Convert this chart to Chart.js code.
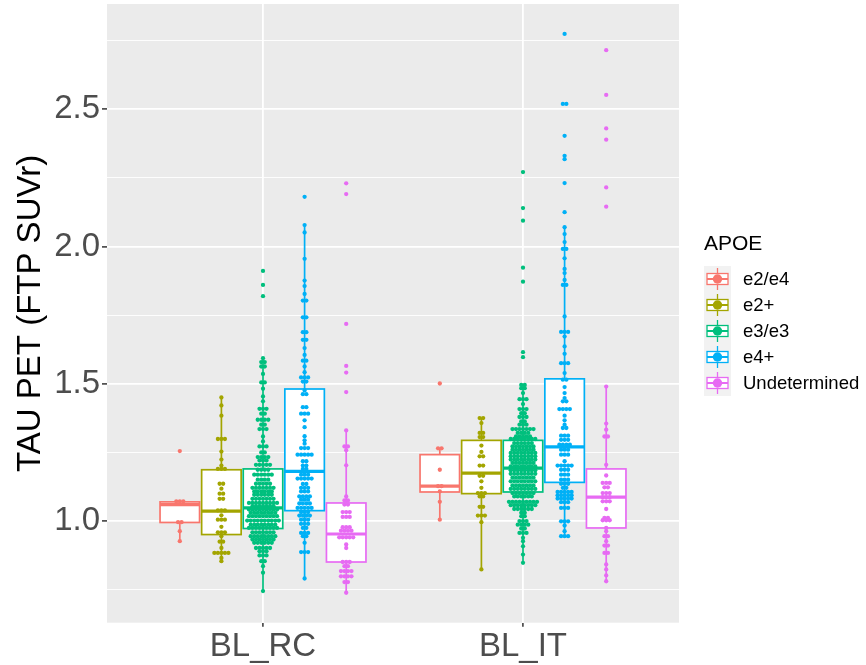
<!DOCTYPE html>
<html><head>
<meta charset="UTF-8">
<title>TAU PET by APOE</title>
<script src="https://cdn.jsdelivr.net/npm/chart.js"></script>
<style>
  body { margin: 0; background: #fff; font-family: 'Liberation Sans', Arial, sans-serif; }
  #wrap { position: relative; width: 866px; height: 665px; }
  #legend-title { position: absolute; left: 704px; top: 232px; font-size: 21px; line-height: 21px; color: #000; }
  .key-row { position: absolute; left: 704px; height: 26px; }
  .key-row canvas { position: absolute; left: 0; top: 0; }
  .key-row span { position: absolute; left: 39px; top: 0; font-size: 18.5px; line-height: 26px; color: #000; white-space: nowrap; }
</style>
</head>
<body>
<div id="wrap">
  <canvas id="chart" width="866" height="665"></canvas>
  <div id="legend-title">APOE</div>
  <div id="legend"></div>
</div>
<script>
const categories = ['BL_RC', 'BL_IT'];
const genotypes = ['e2/e4', 'e2+', 'e3/e3', 'e4+', 'Undetermined'];
const genotypeColors = ['#F8766D', '#A3A500', '#00BF7D', '#00B0F6', '#E76BF3'];
const yTicks = [0.75, 1.0, 1.25, 1.5, 1.75, 2.0, 2.25, 2.5, 2.75];

// box statistics, one row per category, one column per genotype
const whiskerLow    = [[0.927, 0.854, 0.745, 0.791, 0.739], [1.005, 0.824, 0.848, 0.945, 0.781]];
const lowerQuartile = [[0.995, 0.951, 0.973, 1.038, 0.851], [1.106, 1.100, 1.106, 1.141, 0.975]];
const medians       = [[1.060, 1.036, 1.048, 1.181, 0.953], [1.127, 1.175, 1.193, 1.270, 1.087]];
const upperQuartile = [[1.070, 1.187, 1.190, 1.481, 1.066], [1.242, 1.294, 1.294, 1.518, 1.190]];
const whiskerHigh   = [[1.072, 1.450, 1.593, 2.078, 1.330], [1.265, 1.375, 1.496, 2.070, 1.490]];

// dot stacks: [SUVr, number of subjects in the bin]
const rcE2E4 = [[1.255,1],[1.072,3],[0.996,2],[0.963,1],[0.927,1]];
const rcE2 = [[1.450,1],[1.421,1],[1.384,1],[1.299,3],[1.253,1],[1.224,1],[1.202,1],[1.190,3],[1.136,2],[1.118,1],
  [1.100,2],[1.081,2],[1.039,3],[1.021,1],[1.005,3],[0.979,1],[0.959,3],[0.945,1],[0.925,2],[0.902,1],[0.884,5],[0.866,1],[0.854,1]];
const rcE3E3 = [[1.911,1],[1.860,1],[1.819,1],[1.593,1],[1.579,2],[1.563,2],[1.536,1],[1.505,2],[1.482,1],[1.454,1],
  [1.436,1],[1.409,3],[1.391,2],[1.369,4],[1.351,2],[1.335,3],[1.308,1],[1.290,1],[1.272,3],[1.250,2],[1.233,4],
  [1.221,3],[1.205,5],[1.187,4],[1.169,6],[1.151,4],[1.136,5],[1.121,7],[1.108,6],[1.096,6],[1.081,7],[1.066,9],
  [1.054,7],[1.042,9],[1.030,8],[1.018,9],[1.002,10],[0.987,8],[0.975,9],[0.959,7],[0.945,8],[0.933,7],[0.921,6],
  [0.902,5],[0.890,3],[0.875,3],[0.854,2],[0.836,1],[0.812,1],[0.745,1]];
const rcE4 = [[2.181,1],[2.078,1],[2.051,1],[1.955,1],[1.876,1],[1.856,1],[1.827,1],[1.803,2],[1.742,2],[1.688,2],
  [1.660,2],[1.630,1],[1.605,1],[1.584,2],[1.563,1],[1.542,1],[1.523,3],[1.508,2],[1.476,1],[1.462,2],[1.415,2],
  [1.391,3],[1.367,1],[1.342,1],[1.309,1],[1.294,1],[1.282,1],[1.266,3],[1.242,5],[1.218,2],[1.202,2],[1.190,2],
  [1.169,3],[1.155,5],[1.135,2],[1.121,3],[1.108,3],[1.090,4],[1.078,3],[1.064,4],[1.048,5],[1.033,3],[1.020,4],
  [1.005,3],[0.990,3],[0.975,2],[0.957,3],[0.945,2],[0.921,1],[0.887,3],[0.791,1]];
const rcUndet = [[2.230,1],[2.191,1],[1.718,1],[1.565,1],[1.541,1],[1.470,1],[1.330,1],[1.272,2],[1.258,1],[1.203,1],
  [1.090,1],[1.075,2],[1.060,2],[1.033,3],[1.015,3],[0.978,3],[0.965,4],[0.941,5],[0.915,1],[0.902,1],[0.851,3],
  [0.836,2],[0.818,4],[0.799,4],[0.778,2],[0.739,1]];

const itE2E4 = [[1.501,1],[1.265,2],[1.187,1],[1.127,2],[1.108,1],[1.070,1],[1.005,1]];
const itE2 = [[1.375,2],[1.357,1],[1.321,2],[1.306,2],[1.275,1],[1.252,1],[1.236,2],[1.202,2],[1.165,2],[1.145,1],
  [1.121,1],[1.102,3],[1.090,2],[1.052,2],[1.020,3],[0.996,1],[0.824,1]];
const itE3E3 = [[2.271,1],[2.140,1],[2.094,1],[1.923,1],[1.872,1],[1.615,1],[1.597,1],[1.496,2],[1.484,2],[1.466,1],
  [1.444,3],[1.426,1],[1.408,3],[1.393,2],[1.379,3],[1.363,2],[1.351,3],[1.335,7],[1.321,4],[1.308,5],[1.299,8],
  [1.284,6],[1.272,7],[1.260,7],[1.248,8],[1.236,8],[1.224,8],[1.212,7],[1.199,8],[1.185,8],[1.172,8],[1.158,7],
  [1.145,8],[1.130,7],[1.117,8],[1.102,7],[1.090,6],[1.070,9],[1.058,8],[1.044,6],[1.030,2],[1.018,2],[1.000,3],
  [0.987,4],[0.973,2],[0.957,3],[0.939,1],[0.927,1],[0.908,1],[0.878,1],[0.848,1]];
const itE4 = [[2.774,1],[2.519,2],[2.403,1],[2.330,1],[2.318,1],[2.231,1],[2.125,1],[2.070,1],[2.045,1],[2.016,1],
  [1.991,2],[1.957,1],[1.918,1],[1.903,1],[1.878,1],[1.860,2],[1.745,1],[1.689,3],[1.672,1],[1.636,1],[1.609,1],
  [1.575,3],[1.539,1],[1.515,2],[1.488,1],[1.466,1],[1.448,1],[1.436,2],[1.408,4],[1.384,1],[1.367,1],[1.351,1],
  [1.339,2],[1.311,3],[1.296,3],[1.278,4],[1.260,3],[1.242,3],[1.218,1],[1.202,5],[1.187,3],[1.169,3],[1.151,3],
  [1.136,3],[1.121,2],[1.106,5],[1.094,5],[1.082,5],[1.069,3],[1.048,3],[0.999,3],[0.984,1],[0.963,1],[0.945,3]];
const itUndet = [[2.715,1],[2.552,1],[2.430,1],[2.389,1],[2.215,1],[2.145,1],[1.490,1],[1.355,1],[1.333,1],[1.308,2],
  [1.205,1],[1.166,1],[1.139,3],[1.123,2],[1.102,3],[1.087,3],[1.072,3],[1.044,1],[1.012,2],[1.003,3],[0.975,1],
  [0.963,1],[0.945,2],[0.927,1],[0.911,2],[0.884,2],[0.842,1],[0.824,1],[0.802,1],[0.781,1]];

const dotTable = [
  [rcE2E4, rcE2, rcE3E3, rcE4, rcUndet],
  [itE2E4, itE2, itE3E3, itE4, itUndet]
];

// dodge layout in x units (categories sit at 1, 2)
const dodgeStep = 0.16;
const boxHalf = 0.076;
const dotStep = 0.0135;
const groupOffset = i => (i - (genotypes.length - 1) / 2) * dodgeStep;

const datasets = genotypes.map((name, g) => {
  const pts = [];
  categories.forEach((cat, c) => {
    dotTable[c][g].forEach(([v, n]) => {
      for (let k = 0; k < n; k++) {
        pts.push({ x: c + 1 + groupOffset(g) + (k - (n - 1) / 2) * dotStep, y: v });
      }
    });
  });
  return {
    label: name,
    data: pts,
    pointRadius: 2.15,
    pointHoverRadius: 2.15,
    pointBorderWidth: 0,
    pointBackgroundColor: genotypeColors[g],
    showLine: false
  };
});

const isMajor = v => Math.abs(v * 2 - Math.round(v * 2)) < 1e-6;

const panelBg = {
  id: 'panelBg',
  beforeDraw(chart) {
    const { ctx, chartArea: a } = chart;
    ctx.save();
    ctx.fillStyle = '#FFFFFF';
    ctx.fillRect(0, 0, chart.width, chart.height);
    ctx.fillStyle = '#EBEBEB';
    ctx.fillRect(a.left, a.top, a.right - a.left, a.bottom - a.top);
    ctx.restore();
  }
};

const boxes = {
  id: 'boxes',
  beforeDatasetsDraw(chart) {
    const { ctx, scales: { x, y } } = chart;
    ctx.save();
    categories.forEach((cat, c) => {
      genotypes.forEach((name, g) => {
        const cx = x.getPixelForValue(c + 1 + groupOffset(g));
        const left = x.getPixelForValue(c + 1 + groupOffset(g) - boxHalf);
        const right = x.getPixelForValue(c + 1 + groupOffset(g) + boxHalf);
        const yLo = y.getPixelForValue(whiskerLow[c][g]);
        const yQ1 = y.getPixelForValue(lowerQuartile[c][g]);
        const yMed = y.getPixelForValue(medians[c][g]);
        const yQ3 = y.getPixelForValue(upperQuartile[c][g]);
        const yHi = y.getPixelForValue(whiskerHigh[c][g]);
        ctx.strokeStyle = genotypeColors[g];
        ctx.lineWidth = 1.7;
        ctx.beginPath();
        ctx.moveTo(cx, yLo); ctx.lineTo(cx, yQ1);
        ctx.moveTo(cx, yQ3); ctx.lineTo(cx, yHi);
        ctx.stroke();
        ctx.fillStyle = '#FFFFFF';
        ctx.fillRect(left, yQ3, right - left, yQ1 - yQ3);
        ctx.strokeRect(left, yQ3, right - left, yQ1 - yQ3);
        ctx.lineWidth = 3.2;
        ctx.beginPath();
        ctx.moveTo(left, yMed); ctx.lineTo(right, yMed);
        ctx.stroke();
      });
    });
    ctx.restore();
  }
};

const font = { family: "'Liberation Sans', Arial, sans-serif", size: 33 };

new Chart(document.getElementById('chart'), {
  type: 'scatter',
  data: { datasets },
  options: {
    responsive: false,
    animation: false,
    layout: { padding: { top: 4, right: 187, left: 0, bottom: 0 } },
    plugins: { legend: { display: false }, tooltip: { enabled: false } },
    scales: {
      x: {
        type: 'linear',
        min: 0.4,
        max: 2.6,
        afterBuildTicks: s => { s.ticks = categories.map((_, i) => ({ value: i + 1 })); },
        afterFit: s => { s.height = 42.3; s.paddingLeft = 0; s.paddingRight = 0; },
        ticks: {
          callback: v => categories[Math.round(v) - 1],
          font, color: '#4D4D4D', padding: 0, autoSkip: false, maxRotation: 0
        },
        grid: { color: '#FFFFFF', lineWidth: 1.8, tickColor: '#333333', tickLength: 4, tickWidth: 1.5 },
        border: { display: false }
      },
      y: {
        type: 'linear',
        min: 0.63,
        max: 2.883,
        afterBuildTicks: s => { s.ticks = yTicks.map(v => ({ value: v })); },
        afterFit: s => { s.width = 107; s.paddingTop = 0; s.paddingBottom = 0; },
        ticks: {
          callback: v => isMajor(v) ? v.toFixed(1) : '',
          font, color: '#4D4D4D', padding: 2
        },
        grid: {
          color: '#FFFFFF',
          lineWidth: c => (c.tick && isMajor(c.tick.value)) ? 1.8 : 0.9,
          tickColor: c => (c.tick && isMajor(c.tick.value)) ? '#333333' : 'rgba(0,0,0,0)',
          tickLength: 5,
          tickWidth: 1.5
        },
        border: { display: false },
        title: {
          display: true,
          text: 'TAU PET (FTP SUVr)',
          font, color: '#000000',
          padding: { top: 11, bottom: 0 }
        }
      }
    }
  },
  plugins: [panelBg, boxes]
});

// legend keys: boxplot glyph with a dot on top
const legend = document.getElementById('legend');
genotypes.forEach((name, g) => {
  const row = document.createElement('div');
  row.className = 'key-row';
  row.style.top = (266 + g * 26) + 'px';
  const key = document.createElement('canvas');
  key.width = 27; key.height = 26;
  const k = key.getContext('2d');
  k.fillStyle = '#F2F2F2';
  k.fillRect(0, 0, 27, 26);
  k.strokeStyle = genotypeColors[g];
  k.lineWidth = 1.3;
  k.beginPath();
  k.moveTo(13.5, 2); k.lineTo(13.5, 24);
  k.stroke();
  k.fillStyle = '#FFFFFF';
  k.fillRect(3, 7.5, 21, 11);
  k.strokeRect(3, 7.5, 21, 11);
  k.lineWidth = 2;
  k.beginPath();
  k.moveTo(3, 13); k.lineTo(24, 13);
  k.stroke();
  k.fillStyle = genotypeColors[g];
  k.beginPath();
  k.arc(13.5, 13, 4.7, 0, Math.PI * 2);
  k.fill();
  const label = document.createElement('span');
  label.textContent = name;
  row.appendChild(key);
  row.appendChild(label);
  legend.appendChild(row);
});
</script>
</body></html>
